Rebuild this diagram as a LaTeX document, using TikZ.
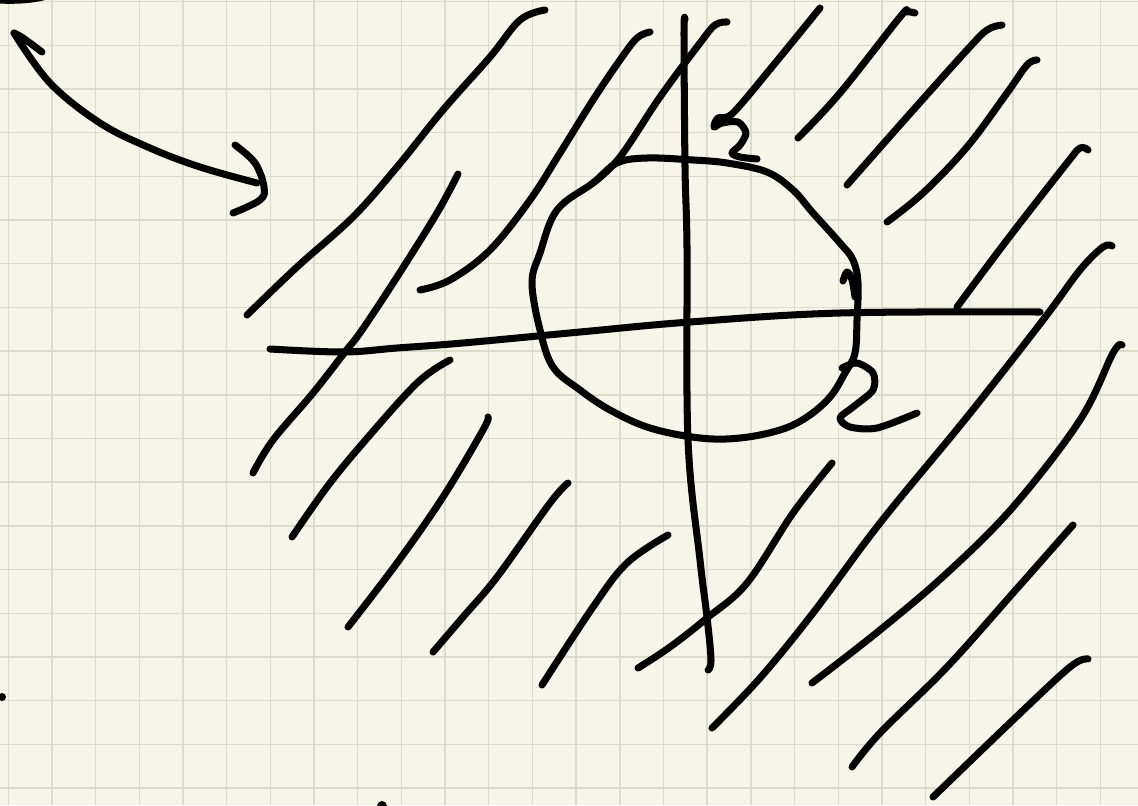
\documentclass[tikz,border=0pt]{standalone}
\definecolor{paper}{HTML}{F7F5EA}
\definecolor{gridc}{HTML}{DCDBCD}
\begin{document}
\begin{tikzpicture}[x=0.02cm,y=-0.02cm,
  ink/.style={line width=4pt, line cap=round, line join=round, black},
  gridline/.style={gridc, line width=0.8pt}]
\useasboundingbox (0,0) rectangle (1138,805);
\fill[paper] (0,0) rectangle (1138,805);
\foreach \i in {0,...,25} \draw[gridline] ({8.3+43.68*\i},0) -- ({8.3+43.68*\i},805);
\foreach \j in {0,...,18} \draw[gridline] (0,{1.7+43.68*\j}) -- (1138,{1.7+43.68*\j});

% top-left blob, dots
\fill[black] (0,0) -- (0,3.5) .. controls (15,4.5) and (35,3) .. (45,0) -- cycle;
\fill[black] (2,697) circle (4);
\fill[black] (382,806) circle (5);

% double headed arrow
\draw[ink] plot[smooth, tension=0.6] coordinates {(14,33) (50,83) (100,123) (150,148) (200,167) (257,183)};
\draw[ink] plot[smooth, tension=0.6] coordinates {(14,33) (23,38) (42,52)};
\draw[ink] plot[smooth, tension=0.6] coordinates {(235,145) (255,163) (264,187) (260,200) (233,213)};

% hatching
\draw[ink] plot[smooth, tension=0.6] coordinates {(545,10) (520,20) (490,57) (443,110) (397,167) (353,217) (297,267) (247,315)};
\draw[ink] plot[smooth, tension=0.6] coordinates {(458,174) (437,213) (397,277) (362,330) (345,352) (313,393) (273,440) (253,473)};
\draw[ink] plot[smooth, tension=0.6] coordinates {(650,32) (637,38) (620,60) (593,100) (560,153) (530,200) (490,250) (450,280) (420,290)};
\draw[ink] plot[smooth, tension=0.6] coordinates {(727,22) (715,25) (700,43) (660,97) (620,157) (593,183)};
\draw[ink] plot[smooth, tension=0.5] coordinates {(820,8) (776,62) (733,113) (718,118) (714,127) (722,123) (738,122) (746,133) (740,145) (732,153) (740,157) (757,159)};
\draw[ink] plot[smooth, tension=0.6] coordinates {(915,13) (907,12) (900,17) (840,93) (798,138)};
\draw[ink] plot[smooth, tension=0.6] coordinates {(1002,25) (987,30) (967,50) (907,117) (847,185)};
\draw[ink] plot[smooth, tension=0.6] coordinates {(1037,60) (1027,65) (1007,93) (967,147) (923,193) (887,222)};
\draw[ink] plot[smooth, tension=0.6] coordinates {(1088,150) (1080,148) (1067,163) (1007,240) (957,307)};
\draw[ink] plot[smooth, tension=0.6] coordinates {(1112,246) (1103,247) (1080,270) (1043,320) (967,417) (880,523) (813,613) (760,678) (712,728)};
\draw[ink] plot[smooth, tension=0.6] coordinates {(1122,345) (1113,353) (1080,420) (1013,507) (947,573) (880,630) (812,683)};
\draw[ink] plot[smooth, tension=0.6] coordinates {(1073,525) (1013,593) (947,667) (880,733) (852,767)};
\draw[ink] plot[smooth, tension=0.6] coordinates {(1088,659) (1070,667) (1013,720) (933,797)};
\draw[ink] plot[smooth, tension=0.6] coordinates {(832,463) (793,513) (747,583) (707,618) (670,647) (638,668)};
\draw[ink] plot[smooth, tension=0.6] coordinates {(668,535) (627,563) (593,607) (542,685)};
\draw[ink] plot[smooth, tension=0.6] coordinates {(568,483) (550,503) (497,577) (463,617) (433,652)};
\draw[ink] plot[smooth, tension=0.6] coordinates {(488,417) (483,430) (443,497) (397,563) (348,627)};
\draw[ink] plot[smooth, tension=0.6] coordinates {(450,360) (417,383) (363,443) (327,487) (292,537)};

% axes
\draw[ink] plot[smooth, tension=0.6] coordinates {(270,349) (343,352) (397,348) (463,343) (580,332) (690,322) (840,313) (1040,312)};
\draw[ink] plot[smooth, tension=0.6] coordinates {(685,20) (684,33) (685,167) (687,248) (688,440) (700,560) (707,617) (711,660) (708,670)};

% circle
\draw[ink] plot[smooth cycle, tension=0.6] coordinates {(593,183) (617,163) (647,158) (693,160) (727,163) (767,172) (793,190) (813,213) (840,243) (853,260) (858,283) (857,320) (855,353) (845,373) (830,397) (807,417) (780,430) (740,438) (700,438) (650,428) (610,410) (580,390) (553,367) (540,330) (532,283) (540,253) (557,210)};

% small hook and right "2"
\draw[ink] plot[smooth, tension=0.6] coordinates {(843,281) (847,272) (852,280) (855,297)};
\draw[ink] plot[smooth, tension=0.5] coordinates {(842,368) (857,363) (873,373) (873,390) (853,407) (840,418) (850,427) (877,428) (917,413)};
\end{tikzpicture}
\end{document}
